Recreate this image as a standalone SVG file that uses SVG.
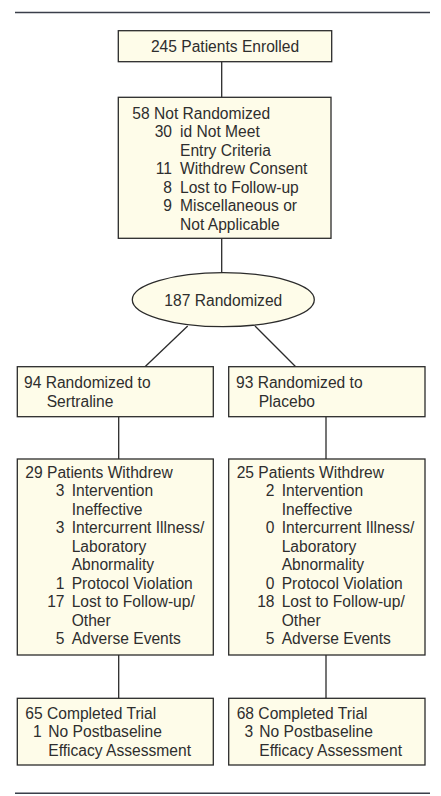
<svg xmlns="http://www.w3.org/2000/svg" width="441" height="796" viewBox="0 0 441 796">
<style>
.box{fill:#fefce9;stroke:#2b2b2b;stroke-width:1.3}
.rule{stroke:#3a3f4a;stroke-width:1.6}
.con line{stroke:#2b2b2b;stroke-width:1.3}
text{font-family:"Liberation Sans",Arial,sans-serif;font-size:15.6px;fill:#2e2e2e}
.r{text-anchor:end}
.c{text-anchor:middle}
</style>
<rect width="441" height="796" fill="#ffffff"/>
<line class="rule" x1="15" y1="12.5" x2="430" y2="12.5"/>
<line class="rule" x1="15" y1="793.3" x2="430" y2="793.3"/>
<g id="connectors" class="con">
<line x1="221.7" y1="61.7" x2="221.7" y2="97.3"/>
<line x1="221.7" y1="238.3" x2="221.7" y2="273"/>
<line x1="187.7" y1="326" x2="145" y2="366.7"/>
<line x1="255" y1="326" x2="295.7" y2="366.7"/>
<line x1="118.7" y1="416.7" x2="118.7" y2="459"/>
<line x1="326" y1="416.7" x2="326" y2="459"/>
<line x1="118.7" y1="655" x2="118.7" y2="698.3"/>
<line x1="326" y1="655" x2="326" y2="698.3"/>
</g>
<g id="enrolled">
<rect class="box" x="118.3" y="30.7" width="213.4" height="31"/>
<text class="c" x="225" y="51.5">245 Patients Enrolled</text>
</g>
<g id="notRandomized">
<rect class="box" x="118.3" y="97.3" width="212.7" height="141"/>
<text x="132.3" y="118.5">58 Not Randomized</text>
<text class="r" x="172" y="137">30</text><text x="180" y="137">id Not Meet</text>
<text x="180" y="155.5">Entry Criteria</text>
<text class="r" x="172" y="174">11</text><text x="180" y="174">Withdrew Consent</text>
<text class="r" x="172" y="192.5">8</text><text x="180" y="192.5">Lost to Follow-up</text>
<text class="r" x="172" y="211">9</text><text x="180" y="211">Miscellaneous or</text>
<text x="180" y="229.5">Not Applicable</text>
</g>
<g id="randomized">
<ellipse class="box" cx="223.3" cy="299.7" rx="91" ry="27"/>
<text class="c" x="223.3" y="305.5">187 Randomized</text>
</g>
<g id="sertraline">
<rect class="box" x="17.3" y="366.7" width="196" height="50"/>
<text x="24" y="388">94 Randomized to</text>
<text x="46.7" y="406.5">Sertraline</text>
</g>
<g id="placebo">
<rect class="box" x="228.7" y="366.7" width="196.3" height="50"/>
<text x="236" y="388">93 Randomized to</text>
<text x="258.7" y="406.5">Placebo</text>
</g>
<g id="withdrewSertraline">
<rect class="box" x="17.3" y="459" width="196" height="196"/>
<text x="25.3" y="477.5">29 Patients Withdrew</text>
<text class="r" x="64.5" y="496">3</text><text x="71.7" y="496">Intervention</text>
<text x="71.7" y="514.5">Ineffective</text>
<text class="r" x="64.5" y="533">3</text><text x="71.7" y="533">Intercurrent Illness/</text>
<text x="71.7" y="551.5">Laboratory</text>
<text x="71.7" y="570">Abnormality</text>
<text class="r" x="64.5" y="588.5">1</text><text x="71.7" y="588.5">Protocol Violation</text>
<text class="r" x="64.5" y="607">17</text><text x="71.7" y="607">Lost to Follow-up/</text>
<text x="71.7" y="625.5">Other</text>
<text class="r" x="64.5" y="644">5</text><text x="71.7" y="644">Adverse Events</text>
</g>
<g id="withdrewPlacebo">
<rect class="box" x="228.7" y="459" width="196.3" height="196"/>
<text x="236.7" y="477.5">25 Patients Withdrew</text>
<text class="r" x="274.5" y="496">2</text><text x="281.7" y="496">Intervention</text>
<text x="281.7" y="514.5">Ineffective</text>
<text class="r" x="274.5" y="533">0</text><text x="281.7" y="533">Intercurrent Illness/</text>
<text x="281.7" y="551.5">Laboratory</text>
<text x="281.7" y="570">Abnormality</text>
<text class="r" x="274.5" y="588.5">0</text><text x="281.7" y="588.5">Protocol Violation</text>
<text class="r" x="274.5" y="607">18</text><text x="281.7" y="607">Lost to Follow-up/</text>
<text x="281.7" y="625.5">Other</text>
<text class="r" x="274.5" y="644">5</text><text x="281.7" y="644">Adverse Events</text>
</g>
<g id="completedSertraline">
<rect class="box" x="17.3" y="698.3" width="196" height="66.7"/>
<text x="25.3" y="718.5">65 Completed Trial</text>
<text class="r" x="41.7" y="737">1</text><text x="48.3" y="737">No Postbaseline</text>
<text x="48.3" y="755.5">Efficacy Assessment</text>
</g>
<g id="completedPlacebo">
<rect class="box" x="228.7" y="698.3" width="196.3" height="66.7"/>
<text x="236.7" y="718.5">68 Completed Trial</text>
<text class="r" x="253.3" y="737">3</text><text x="259.3" y="737">No Postbaseline</text>
<text x="259.3" y="755.5">Efficacy Assessment</text>
</g>
</svg>
